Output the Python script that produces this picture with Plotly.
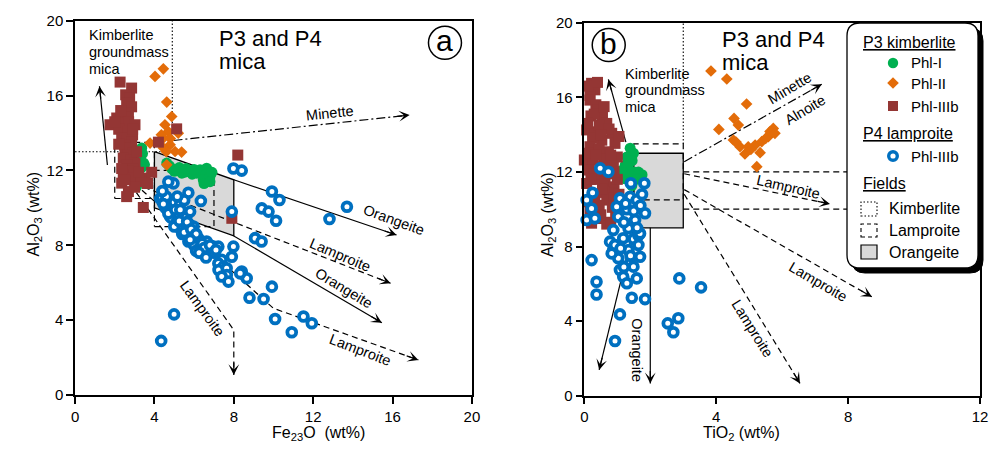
import math
import plotly.graph_objects as go

# ---------------- data ----------------
# Panel (a): Fe2O3 (x) vs Al2O3 (y), wt%
A_PHL1_FE = [3.36, 3.40, 3.30, 3.45, 3.35, 3.10, 3.50, 3.10, 4.62, 4.75, 4.87, 5.00, 5.12, 5.38,
             5.50, 5.71, 5.90, 6.13, 6.30, 6.63, 6.60, 6.46, 6.80, 6.90, 6.50, 6.80, 3.20, 5.25, 5.60, 6.00]
A_PHL1_AL = [13.20, 12.90, 12.60, 12.40, 12.15, 12.10, 12.30, 11.14, 12.39, 12.25, 12.10, 11.95, 12.03, 11.85,
             11.90, 11.94, 11.80, 11.85, 12.03, 12.12, 11.80, 11.50, 11.67, 11.90, 11.30, 11.40, 12.80, 12.15,
             12.10, 12.05]

A_PHL2_FE = [4.45, 4.03, 4.62, 4.87, 4.53, 4.70, 4.45, 4.80, 5.20, 4.79, 3.78, 4.45, 5.04, 5.37, 4.62, 4.60, 4.35]
A_PHL2_AL = [17.43, 17.02, 15.65, 14.88, 14.44, 14.08, 13.73, 13.70, 13.99, 13.37, 13.46, 13.20, 13.01, 12.98,
             12.30, 13.00, 13.90]

A_PHL3_FE = [2.27, 2.85, 2.55, 2.75, 2.60, 2.85, 2.69, 2.50, 2.10, 1.76, 2.35, 2.70, 3.02, 2.20, 2.69, 2.90,
             2.35, 2.60, 2.85, 2.50, 2.80, 2.52, 2.94, 2.65, 2.43, 2.80, 3.02, 2.60, 2.90, 2.70, 2.43, 2.85,
             3.53, 3.86, 3.30, 2.35, 2.69, 3.00, 2.60, 3.44, 4.20, 5.12, 8.20, 7.90,
             2.30, 2.90, 2.20, 2.35, 3.10, 2.00, 3.20, 2.50, 3.65]
A_PHL3_AL = [16.72, 16.40, 16.04, 15.85, 15.60, 15.40, 15.06, 14.85, 14.80, 14.44, 14.53, 14.60, 14.44, 14.20,
             14.08, 13.90, 13.73, 13.60, 13.50, 13.35, 13.20, 13.19, 12.93, 12.80, 12.66, 12.55, 12.39, 12.30,
             12.10, 11.95, 11.76, 11.59, 11.59, 11.90, 11.40, 11.32, 10.87, 11.10, 10.60, 10.02, 13.51, 14.22,
             12.82, 9.44,
             15.20, 14.20, 13.40, 12.10, 13.00, 14.60, 11.90, 11.50, 11.30]

A_LAMP_FE = [4.96, 4.70, 5.71, 6.34, 4.29, 4.37, 4.62, 4.95, 5.13, 4.79, 4.87, 5.46, 5.46, 5.29, 5.79, 5.97,
             5.96, 5.71, 6.21, 6.13, 6.63, 6.89, 6.97, 7.22, 6.46, 4.50, 4.80, 5.00, 5.20, 5.60, 5.10, 5.40,
             5.60, 5.90, 6.00, 6.30, 6.10, 6.70, 7.00, 5.80, 5.30, 5.50, 4.60,
             4.40, 4.55, 4.70, 5.05, 5.30, 5.00, 5.25, 5.65, 5.50, 5.85, 6.10, 5.80, 6.40, 6.50, 6.80, 7.10,
             6.25, 6.60, 5.15, 4.45,
             7.98, 8.40, 7.90, 7.98, 7.90, 7.39, 7.22, 7.48, 7.23, 7.64, 7.65, 7.39, 7.73, 8.40, 8.65, 8.32,
             9.07, 9.40, 9.92, 10.30, 9.41, 9.75, 10.13, 12.82, 13.70, 9.92, 8.79, 9.50, 10.08, 10.92, 11.51,
             11.93, 4.99, 4.34]
A_LAMP_AL = [11.31, 11.40, 10.81, 10.37, 10.50, 10.52, 10.07, 9.80, 10.06, 9.53, 9.45, 9.70, 9.36, 8.91, 9.09,
             9.00, 8.73, 8.20, 8.38, 8.28, 8.20, 7.84, 7.93, 7.93, 7.57, 10.30, 10.20, 10.30, 9.60, 9.50, 9.20,
             8.60, 8.80, 8.50, 8.00, 7.90, 7.70, 7.60, 7.60, 9.80, 10.20, 10.40, 10.60,
             10.90, 10.00, 9.70, 9.90, 9.90, 9.00, 9.30, 9.25, 8.70, 8.85, 8.60, 8.30, 8.10, 7.85, 8.00, 7.75,
             7.60, 7.35, 10.60, 10.20,
             12.10, 11.99, 9.80, 7.93, 7.39, 7.22, 7.03, 6.86, 6.68, 6.77, 6.41, 6.33, 6.06, 6.60, 6.24, 6.50,
             8.38, 8.20, 10.87, 10.42, 9.97, 9.80, 9.31, 9.40, 10.06, 5.79, 5.20, 5.13, 4.06, 3.35, 4.19, 3.83,
             4.31, 2.89]

# Panel (b): TiO2 (x) vs Al2O3 (y), wt%
B_PHL1_TI = [1.39, 1.49, 1.29, 1.24, 1.14, 1.34, 1.64, 1.75, 1.24, 1.44, 1.13, 1.50, 1.35, 1.45, 1.30, 1.60, 1.20]
B_PHL1_AL = [13.27, 13.00, 12.80, 12.36, 12.08, 11.90, 11.99, 11.85, 11.63, 11.27, 11.70, 12.00, 12.10, 12.60,
             12.30, 11.60, 11.95]

B_PHL2_TI = [3.84, 4.32, 4.92, 4.08, 4.54, 4.67, 4.52, 4.72, 4.87, 4.97, 5.23, 5.33, 5.18, 5.38, 5.58, 5.73,
             5.63, 5.78, 5.50, 4.60, 5.05]
B_PHL2_AL = [17.41, 16.98, 15.64, 14.28, 14.87, 14.51, 13.71, 13.35, 12.96, 13.35, 12.28, 13.03, 13.44, 13.62,
             13.89, 14.33, 14.16, 14.07, 13.80, 13.60, 13.20]

B_PHL3_TI = [0.22, 0.32, 0.17, 0.17, 0.35, 0.42, 0.20, 0.55, 0.07, 0.32, 0.68, 0.45, 0.83, 0.53, 0.25, 0.93,
             0.17, 0.73, 0.45, 0.00, 0.27, 0.60, 0.48, 0.88, 0.15, 0.70, 0.07, 0.40, 0.63, 0.90, 0.83, 0.32,
             0.60, 0.68, 0.17, 0.45, 0.85, 0.22, 0.68, 0.50, 0.95, 1.00, 1.00,
             0.10, 0.40, 0.30, 0.60, 0.10, 0.75, 0.50, 0.10, 0.35, 0.80, 0.60, 0.30, 0.90, 0.20, 0.55, 0.15,
             0.90, 0.40, 0.80, 1.05, 1.05]
B_PHL3_AL = [16.75, 16.40, 16.10, 15.85, 15.60, 15.30, 15.00, 14.95, 14.25, 14.15, 14.60, 14.50, 14.07, 13.70,
             13.80, 13.53, 13.35, 13.08, 13.20, 12.64, 12.64, 12.70, 12.28, 12.46, 12.10, 11.90, 11.38, 11.60,
             11.47, 11.20, 10.85, 10.76, 10.90, 10.49, 9.96, 10.20, 10.10, 9.25, 9.20, 9.70, 9.60, 12.80, 11.60,
             16.60, 16.80, 15.10, 15.50, 14.60, 14.30, 14.00, 13.00, 12.90, 12.90, 12.20, 11.90, 12.00, 11.60,
             11.10, 10.40, 10.60, 9.50, 9.30, 13.90, 10.80]

B_LAMP_TI = [0.48, 0.73, 1.82, 1.41, 0.25, 0.07, 0.22, 0.07, 0.32, 1.84, 0.22, 0.37, 0.37, 1.44, 1.84, 1.08,
             0.93, 2.88, 2.53, 2.85, 2.70, 3.54,
             1.08, 1.39, 1.59, 1.29, 0.98, 1.03, 1.54, 1.34, 0.88, 1.18, 1.49, 0.78, 1.64, 1.64, 0.88, 1.34,
             1.03, 1.39, 1.69, 1.49, 1.08, 1.18, 1.59, 1.29, 0.83, 0.93, 1.69, 1.20, 1.50, 1.70, 1.25, 1.60,
             1.10, 1.40, 1.20, 1.75]
B_LAMP_AL = [12.19, 12.01, 11.39, 11.39, 10.88, 10.49, 10.04, 9.42, 9.51, 9.78, 7.27, 6.11, 5.43, 5.25, 5.18,
             4.36, 2.93, 6.29, 3.88, 4.15, 3.40, 5.81,
             10.58, 10.67, 10.49, 10.00, 10.13, 9.60, 9.42, 8.98, 8.88, 8.44, 8.40, 8.26, 8.08, 8.60, 7.81, 7.81,
             7.37, 7.10, 7.45, 6.92, 6.74, 6.38, 6.29, 6.03, 7.63, 8.08, 8.70, 9.30, 9.90, 10.20, 10.30, 9.00,
             7.90, 7.50, 6.90, 10.80]

# ---------------- diagram fields and trend vectors ----------------
A_ORANGEITE = ([4, 8, 8, 4, 4], [13, 11.5, 8.5, 10, 13])
A_LAMPROITE = [([2, 4, 4, 2, 2], [10.5, 10.5, 13.5, 13.5, 10.5]),
               ([4, 7, 7, 4, 4], [9, 9, 12, 12, 9])]
A_KIMBERLITE = ([0, 4.9, 4.9], [13, 13, 20])
A_TRENDS = [
    ("solid", [1.63, 1.23], [12.29, 16.5]),
    ("dashdot", [4.96, 16.86], [13.6, 14.96]),
    ("solid", [8, 16.2], [11.5, 8.55]),
    ("dash", [3.0, 15.9], [11.3, 5.97]),
    ("solid", [8, 15.46], [8.5, 3.86]),
    ("dash", [3.0, 10.0, 17.3], [11.3, 4.63, 1.87]),
    ("dash", [2.8, 8.0, 8.0], [11.25, 3.47, 1.07]),
]
A_LABELS = [("Minette", 12.86, 15.05, -6), ("Orangeite", 16.08, 9.35, 20), ("Lamproite", 13.36, 7.5, 23),
            ("Orangeite", 13.53, 5.7, 31), ("Lamproite", 14.37, 2.4, 21), ("Lamproite", 6.39, 4.63, 54)]

B_ORANGEITE = ([1.5, 3, 3, 1.5, 1.5], [9, 9, 13, 13, 9])
B_LAMPROITE = [([1.5, 3, 3, 1.5, 1.5], [10.5, 10.5, 13.5, 13.5, 10.5]),
               ([3, 8.2, None, 3, 8.2], [12, 12, None, 10, 10])]
B_KIMBERLITE = ([3, 3], [13.5, 20])
B_TRENDS = [
    ("solid", [1.26, 0.73], [13.6, 16.96]),
    ("dashdot", [3.03, 7.2], [12.55, 16.7]),
    ("dash", [3.03, 7.45], [11.9, 10.28]),
    ("dash", [3.03, 8.72], [11.05, 5.3]),
    ("dash", [3.03, 6.54], [10.8, 0.66]),
    ("solid", [2.0, 2.0], [9.0, 0.66]),
    ("solid", [1.5, 0.45], [9.0, 1.38]),
]
B_LABELS = [("Minette", 6.24, 16.48, -31), ("Alnoite", 6.69, 15.32, -31), ("Lamproite", 6.19, 11.17, 13),
            ("Lamproite", 7.1, 6.11, 30), ("Lamproite", 5.08, 3.61, 58), ("Orangeite", 1.59, 2.45, 90)]

# ---------------- styling ----------------
FONT = "Liberation Sans, Arial, sans-serif"
C_GREEN, C_ORANGE, C_BROWN, C_BLUE, C_GRAY = "#00b050", "#e36c09", "#943634", "#0070c0", "#d9d9d9"
W, H = 998, 455
XA_DOM, YA_DOM = [0.0752, 0.4729], [0.1319, 0.9545]
XB_DOM, YB_DOM = [0.5855, 0.9820], [0.1303, 0.9501]
XA_RANGE, XB_RANGE, Y_RANGE = [0, 20], [0, 12], [0, 20]
DASHES = {"solid": "solid", "dash": "6px,4px", "dashdot": "9px,3px,2px,3px", "dot": "1.5px,2px"}

fig = go.Figure()
annotations, shapes = [], []


def add_panel(xa, ya, xdom, ydom, xrange_, orange, lamps, kimb, trends, labels, series):
    sx = (xdom[1] - xdom[0]) * W / (xrange_[1] - xrange_[0])
    sy = (ydom[1] - ydom[0]) * H / (Y_RANGE[1] - Y_RANGE[0])
    common = dict(xaxis=xa, yaxis=ya, showlegend=False, hoverinfo="skip")
    fig.add_trace(go.Scatter(x=orange[0], y=orange[1], mode="lines", fill="toself", fillcolor=C_GRAY,
                             line=dict(color="black", width=1.3), **common))
    for lx, ly in lamps:
        fig.add_trace(go.Scatter(x=lx, y=ly, mode="lines", line=dict(color="black", width=1.2,
                                 dash=DASHES["dash"]), **common))
    fig.add_trace(go.Scatter(x=kimb[0], y=kimb[1], mode="lines",
                             line=dict(color="black", width=1.1, dash=DASHES["dot"]), **common))
    for dash, tx, ty in trends:
        fig.add_trace(go.Scatter(x=tx, y=ty, mode="lines",
                                 line=dict(color="black", width=1.2, dash=DASHES[dash]), **common))
        dx = (tx[-1] - tx[-2]) * sx
        dy = -(ty[-1] - ty[-2]) * sy
        n = math.hypot(dx, dy)
        L = 14
        annotations.append(dict(x=tx[-1], y=ty[-1], xref=xa, yref=ya, ax=-dx / n * L, ay=-dy / n * L,
                                axref="pixel", ayref="pixel", text="", showarrow=True, arrowhead=3,
                                arrowsize=1.5, arrowwidth=1.2, arrowcolor="black", standoff=0))
    for text, lx, ly, ang in labels:
        annotations.append(dict(x=lx, y=ly, xref=xa, yref=ya, text=text, showarrow=False, textangle=ang,
                                font=dict(family=FONT, size=14.5, color="black")))
    for xs, ys, marker in series:
        fig.add_trace(go.Scatter(x=xs, y=ys, mode="markers", marker=marker, cliponaxis=False, **common))


M_GREEN = dict(symbol="circle", size=11, color=C_GREEN, line=dict(width=0))
M_ORANGE = dict(symbol="diamond", size=9, color=C_ORANGE, line=dict(width=0))
M_BROWN = dict(symbol="square", size=11, color=C_BROWN, line=dict(width=0))
M_BLUE = dict(symbol="circle", size=8.8, color="white", line=dict(width=3.8, color=C_BLUE))

add_panel("x", "y", XA_DOM, YA_DOM, XA_RANGE, A_ORANGEITE, A_LAMPROITE, A_KIMBERLITE, A_TRENDS, A_LABELS,
          [(A_PHL1_FE, A_PHL1_AL, M_GREEN), (A_PHL2_FE, A_PHL2_AL, M_ORANGE),
           (A_PHL3_FE, A_PHL3_AL, M_BROWN), (A_LAMP_FE, A_LAMP_AL, M_BLUE)])
add_panel("x2", "y2", XB_DOM, YB_DOM, XB_RANGE, B_ORANGEITE, B_LAMPROITE, B_KIMBERLITE, B_TRENDS, B_LABELS,
          [(B_PHL1_TI, B_PHL1_AL, M_GREEN), (B_PHL2_TI, B_PHL2_AL, M_ORANGE),
           (B_PHL3_TI, B_PHL3_AL, M_BROWN), (B_LAMP_TI, B_LAMP_AL, M_BLUE)])

# panel texts
TXT_A = [("Kimberlite", 0.59, 19.25, 14.5), ("groundmass", 0.59, 18.33, 14.5), ("mica", 0.59, 17.42, 14.5),
         ("P3 and P4", 7.14, 19.07, 22), ("mica", 7.14, 17.82, 22)]
TXT_B = [("Kimberlite", 1.18, 17.25, 14.5), ("groundmass", 1.18, 16.37, 14.5), ("mica", 1.18, 15.47, 14.5),
         ("P3 and P4", 4.12, 19.12, 22), ("mica", 4.12, 17.85, 22)]
for xa, ya, txts in (("x", "y", TXT_A), ("x2", "y2", TXT_B)):
    for t, tx, ty, fs in txts:
        annotations.append(dict(x=tx, y=ty, xref=xa, yref=ya, text=t, showarrow=False, xanchor="left",
                                yanchor="middle", font=dict(family=FONT, size=fs, color="black")))

for xa, ya, cx, cy, letter in (("x", "y", 18.64, 18.82, "a"), ("x2", "y2", 0.74, 18.8, "b")):
    shapes.append(dict(type="circle", xref=xa, yref=ya, xsizemode="pixel", ysizemode="pixel",
                       xanchor=cx, yanchor=cy, x0=-16.5, x1=16.5, y0=-16.5, y1=16.5,
                       line=dict(color="black", width=1.5), layer="above"))
    annotations.append(dict(x=cx, y=cy, xref=xa, yref=ya, text=letter, showarrow=False, yshift=2,
                            font=dict(family=FONT, size=30, color="black")))

# axis titles
AX_TITLES = [("Fe<sub>23</sub>O  (wt%)", 270, 445, 0), ("TiO<sub>2</sub> (wt%)", 782, 445, 0),
             ("Al<sub>2</sub>O<sub>3</sub> (wt%)", 22, 215, -90), ("Al<sub>2</sub>O<sub>3</sub> (wt%)", 548, 215, -90)]
for t, px, py, ang in AX_TITLES:
    annotations.append(dict(x=px / W, y=1 - py / H, xref="paper", yref="paper", text=t, showarrow=False,
                            textangle=ang, font=dict(family=FONT, size=16, color="black")))

# ---------------- legend (drawn by hand, pixel layout) ----------------
def px2(x):
    return x / W


def py2(y):
    return 1 - y / H


def rrect(x0, y0, x1, y1, r):
    pts = [("M", x0 + r, y0), ("L", x1 - r, y0), ("Q", x1, y0, x1, y0 + r), ("L", x1, y1 - r),
           ("Q", x1, y1, x1 - r, y1), ("L", x0 + r, y1), ("Q", x0, y1, x0, y1 - r), ("L", x0, y0 + r),
           ("Q", x0, y0, x0 + r, y0)]
    s = ""
    for p in pts:
        cmd, vals = p[0], p[1:]
        coords = []
        for i in range(0, len(vals), 2):
            coords.append(f"{px2(vals[i]):.5f},{py2(vals[i + 1]):.5f}")
        s += cmd + " ".join(coords) + " "
    return s + "Z"


LEG = dict(x0=847, y0=23, x1=978, y1=268, r=13, shadow=5)
shapes.append(dict(type="path", xref="paper", yref="paper", layer="above",
                   path=rrect(LEG["x0"] + LEG["shadow"], LEG["y0"] + LEG["shadow"], LEG["x1"] + LEG["shadow"],
                              LEG["y1"] + LEG["shadow"], LEG["r"]),
                   fillcolor="black", line=dict(color="black", width=1)))
shapes.append(dict(type="path", xref="paper", yref="paper", layer="above",
                   path=rrect(LEG["x0"], LEG["y0"], LEG["x1"], LEG["y1"], LEG["r"]),
                   fillcolor="white", line=dict(color="black", width=1.3)))

LEG_HEADERS = [("P3 kimberlite", 861, 42), ("P4 lamproite", 861, 133), ("Fields", 861, 183)]
LEG_MARKERS = [("circle", C_GREEN, 893, 63, "Phl-I"), ("diamond", C_ORANGE, 893, 83, "Phl-II"),
               ("square", C_BROWN, 893, 106, "Phl-IIIb"), ("ring", C_BLUE, 893, 156, "Phl-IIIb")]
LEG_FIELDS = [("dot", 861, 202, 877, 216, "Kimberlite"), ("dash", 861, 224, 877, 237, "Lamproite"),
              ("gray", 861, 245, 877, 259, "Orangeite")]

for t, lx, ly in LEG_HEADERS:
    annotations.append(dict(x=px2(lx), y=py2(ly), xref="paper", yref="paper", text=f"<u>{t}</u>",
                            showarrow=False, xanchor="left", yanchor="middle",
                            font=dict(family=FONT, size=16, color="black")))
for kind, col, cx, cy, t in LEG_MARKERS:
    if kind == "circle":
        r = 5.2
        shapes.append(dict(type="circle", xref="paper", yref="paper", layer="above",
                           x0=px2(cx - r), x1=px2(cx + r), y0=py2(cy + r), y1=py2(cy - r),
                           fillcolor=col, line=dict(width=0)))
    elif kind == "diamond":
        r = 5.8
        path = (f"M{px2(cx):.5f},{py2(cy - r):.5f} L{px2(cx + r):.5f},{py2(cy):.5f} "
                f"L{px2(cx):.5f},{py2(cy + r):.5f} L{px2(cx - r):.5f},{py2(cy):.5f} Z")
        shapes.append(dict(type="path", xref="paper", yref="paper", layer="above", path=path,
                           fillcolor=col, line=dict(width=0)))
    elif kind == "square":
        r = 5
        shapes.append(dict(type="rect", xref="paper", yref="paper", layer="above",
                           x0=px2(cx - r), x1=px2(cx + r), y0=py2(cy + r), y1=py2(cy - r),
                           fillcolor=col, line=dict(width=0)))
    else:
        r = 4.3
        shapes.append(dict(type="circle", xref="paper", yref="paper", layer="above",
                           x0=px2(cx - r), x1=px2(cx + r), y0=py2(cy + r), y1=py2(cy - r),
                           fillcolor="white", line=dict(width=3.4, color=col)))
    annotations.append(dict(x=px2(909), y=py2(cy), xref="paper", yref="paper", text=t, showarrow=False,
                            xanchor="left", yanchor="middle", font=dict(family=FONT, size=15, color="black")))
for kind, x0, y0, x1, y1, t in LEG_FIELDS:
    if kind == "gray":
        line, fill = dict(color="black", width=1.2), C_GRAY
    else:
        line, fill = dict(color="black", width=1.1, dash=DASHES[kind] if kind == "dot" else "4px,3px"), "white"
    shapes.append(dict(type="rect", xref="paper", yref="paper", layer="above", x0=px2(x0), x1=px2(x1),
                       y0=py2(y1), y1=py2(y0), fillcolor=fill, line=line))
    annotations.append(dict(x=px2(887), y=py2((y0 + y1) / 2), xref="paper", yref="paper", text=t,
                            showarrow=False, xanchor="left", yanchor="middle",
                            font=dict(family=FONT, size=16, color="black")))

# ---------------- axes ----------------
AXIS = dict(showgrid=False, zeroline=False, showline=True, mirror=True, linecolor="black", linewidth=1.5,
            ticks="outside", ticklen=7, tickwidth=1.5, tickcolor="black", dtick=4,
            tickfont=dict(family=FONT, size=15, color="black"), automargin=False, fixedrange=True)
fig.update_layout(
    width=W, height=H, margin=dict(l=0, r=0, t=0, b=0), paper_bgcolor="white", plot_bgcolor="white",
    xaxis=dict(domain=XA_DOM, range=XA_RANGE, anchor="y", **AXIS),
    yaxis=dict(domain=YA_DOM, range=Y_RANGE, anchor="x", **AXIS),
    xaxis2=dict(domain=XB_DOM, range=XB_RANGE, anchor="y2", **AXIS),
    yaxis2=dict(domain=YB_DOM, range=Y_RANGE, anchor="x2", **AXIS),
    annotations=annotations, shapes=shapes, font=dict(family=FONT, color="black"),
)
fig.write_html("out.html", config={"displayModeBar": False},
               post_script="document.body.style.margin='0';document.body.style.padding='0';")
